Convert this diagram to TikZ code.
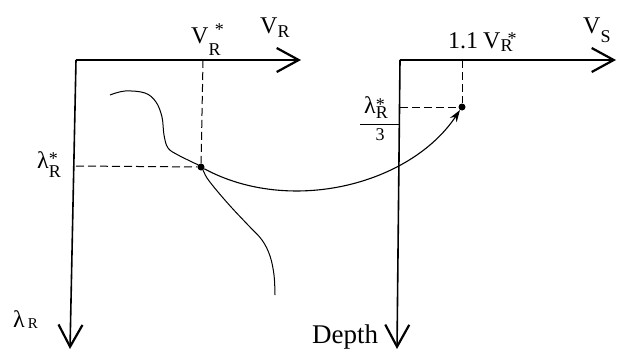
\documentclass[tikz,border=0pt]{standalone}
\usepackage{fontspec}
\setmainfont{Liberation Serif}
\usetikzlibrary{arrows.meta}
\newcommand{\lsb}[2]{\raisebox{-#1pt}{\fontsize{18}{18}\selectfont #2}}
\newcommand{\lst}[2]{\rlap{\raisebox{#1pt}{\fontsize{18}{18}\selectfont\hspace{#2em}*}}}
\begin{document}
\begin{tikzpicture}[x=1pt,y=-1pt,
  axis/.style={line width=1.6pt,-{Straight Barb[length=22pt,width=24pt,line width=2.2pt]}},
  guide/.style={line width=1pt,dash pattern=on 8pt off 4pt},
  lab/.style={inner sep=0pt,anchor=base west,font=\fontsize{24}{28}\selectfont},
  dot/.style={circle,fill=black,inner sep=0pt,minimum size=7pt}]
\useasboundingbox (0,0) rectangle (617,351);
% left graph
\coordinate (Lo) at (76,60);
\coordinate (Lx) at (301,60);
\coordinate (Ly) at (70,349);
\draw[axis] (Lo) -- (Lx);
\draw[axis] (Lo) -- (Ly);
\node[dot] (p1) at (201,167) {};
\coordinate (p1x) at (203,60);
\coordinate (p1y) at (76,166);
\draw[guide] (p1x) -- (p1);
\draw[guide] (p1y) -- (p1);
\draw[line width=1pt] plot[smooth,tension=0.6] coordinates {(110,95) (125,91) (145,93) (156,102) (162,117) (164,135) (168,148) (178,155) (192,162) (201,167) (207,178) (218,192) (232,208) (248,225) (262,240) (270,256) (274,275) (275,295)};
\node[lab] (vrs) at (191,43) {V\lst{8}{0.35}\lsb{12}{R}};
\node[lab] (vr) at (260,33) {V\lsb{4}{R}};
\node[lab] (lrs) at (37,168) {λ\lst{4}{0}\lsb{9}{R}};
\node[lab] (lr) at (13,327) {λ\hspace{3pt}\lsb{1}{\fontsize{15}{15}\selectfont R}};
% right graph
\coordinate (Ro) at (400,60);
\coordinate (Rx) at (616,60);
\coordinate (Ry) at (397,349);
\draw[axis] (Ro) -- (Rx);
\draw[axis] (Ro) -- (Ry);
\node[dot] (p2) at (462,107) {};
\coordinate (p2x) at (462,60);
\coordinate (p2y) at (400,107);
\draw[guide] (p2x) -- (p2);
\draw[guide] (p2y) -- (p2);
\node[lab] (v11) at (448,48) {1.1\hspace{5pt}V\lst{4}{0.4}\lsb{3}{R}};
\node[lab] (vs) at (583,33) {V\lsb{9}{S}};
\node[lab] (num) at (364,113) {λ\lst{3}{0}\lsb{5}{R}};
\coordinate (barl) at (360,124);
\coordinate (barr) at (400,124);
\draw[line width=1pt] (barl) -- (barr);
\node[lab,anchor=base,font=\fontsize{18}{18}\selectfont] (den) at (380,140) {3};
\node[lab,font=\fontsize{27}{30}\selectfont] (depth) at (312,343) {Depth};
% transfer arrow
\draw[line width=1.1pt,-{Stealth[length=12pt,width=8pt]}] (p1) .. controls (290,215) and (410,185) .. (p2);
\end{tikzpicture}
\end{document}
